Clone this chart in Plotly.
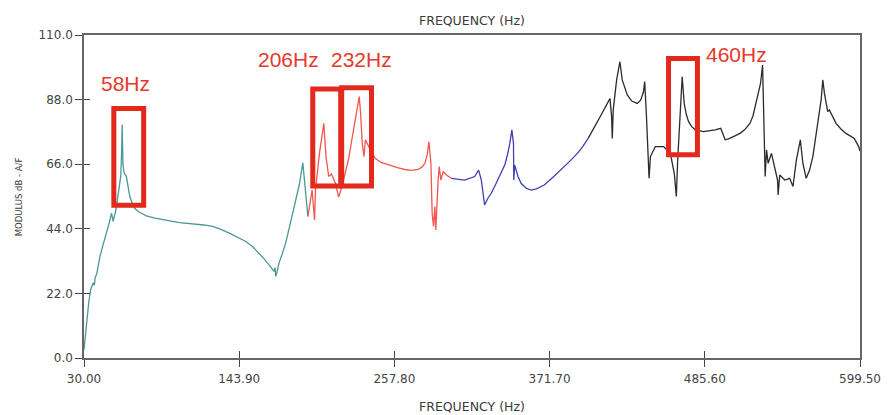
import plotly.graph_objects as go

# Frequency response (modulus, dB) split into the four measured bands
teal_freq = [30.0, 31.0, 32.0, 33.5, 35.0, 36.8, 37.6, 38.2, 39.3, 41.7, 44.0, 46.6, 48.5,
             50.2, 51.4, 53.4, 55.8, 57.0, 57.6, 58.0, 58.6, 59.4, 61.1, 62.4, 63.6, 65.5,
             67.2, 70.0, 75.8, 82.0, 87.9, 94.0, 100.1, 106.0, 112.3, 118.0, 124.4, 130.5,
             136.6, 142.5, 148.8, 154.0, 158.5, 162.5, 165.8, 168.0, 169.5, 170.2, 170.7,
             171.5, 173.1, 175.5, 178.0, 181.5, 185.3, 188.0, 190.6, 192.6, 194.3]
teal_db = [2.8, 8.0, 14.0, 19.0, 23.5, 25.6, 24.8, 27.5, 28.5, 34.6, 38.5, 42.5, 46.0,
           49.3, 46.5, 50.4, 58.4, 62.0, 70.0, 79.4, 66.0, 63.0, 61.8, 58.0, 55.0, 52.5,
           51.0, 49.8, 48.4, 47.6, 47.0, 46.6, 46.1, 45.9, 45.6, 45.3, 44.8, 43.8,
           42.5, 41.2, 39.7, 37.8, 35.7, 33.6, 31.7, 30.5, 29.5, 30.8, 27.8,
           29.0, 32.3, 35.5, 39.1, 46.0, 53.3, 59.0, 66.5, 57.2, 48.2]

red_freq = [194.3, 195.5, 197.4, 199.2, 199.9, 202.8, 204.6, 206.0, 207.6, 209.6, 211.6,
            214.5, 216.9, 219.3, 224.0, 228.6, 232.0, 233.0, 234.2, 235.5, 236.5, 239.6,
            243.7, 248.0, 253.4, 260.0, 265.6, 270.0, 275.3, 278.0, 280.2, 282.0, 283.1,
            284.6, 285.5, 286.5, 287.5, 288.2, 289.9, 290.7, 291.9, 293.6, 296.0, 299.6]
red_db = [48.2, 51.6, 57.2, 47.0, 57.2, 69.7, 75.0, 79.9, 68.6, 61.8, 62.7,
          59.5, 54.8, 58.4, 67.4, 79.9, 89.0, 83.3, 73.1, 68.6, 74.3, 71.4,
          68.0, 66.6, 65.7, 64.8, 64.2, 63.9, 64.2, 65.0, 66.3, 69.5, 73.7,
          66.3, 49.3, 44.8, 51.6, 43.6, 60.6, 65.2, 60.6, 63.5, 62.3, 61.2]

blue_freq = [299.6, 304.5, 309.4, 316.7, 319.6, 321.6, 324.0, 326.5, 328.9, 332.5, 336.2,
             339.0, 341.0, 342.5, 344.0, 345.2, 345.4, 346.1, 348.5, 350.8, 354.5, 358.1,
             362.0, 367.8, 374.0, 380.0, 386.0, 392.1, 396.0, 400.0]
blue_db = [61.2, 60.9, 60.6, 61.8, 64.0, 60.6, 52.1, 54.5, 56.1, 59.5, 62.9,
           66.0, 69.7, 73.0, 77.7, 73.1, 60.6, 65.7, 61.8, 59.5, 57.8, 57.2,
           57.6, 58.9, 61.5, 64.0, 66.8, 69.7, 72.0, 74.8]

black_freq = [400.0, 403.5, 406.8, 410.0, 412.8, 416.0, 417.2, 417.7, 418.4, 420.9, 423.3,
              425.0, 428.7, 432.0, 436.0, 438.5, 440.5, 441.5, 442.8, 443.8, 444.7, 445.7,
              449.3, 455.4, 460.3, 463.2, 464.7, 465.7, 467.2, 469.0, 470.5, 472.0, 473.7,
              476.0, 478.6, 484.7, 493.2, 497.3, 500.5, 503.0, 506.6, 511.4, 515.0, 518.7,
              521.0, 523.6, 525.0, 526.5, 528.0, 528.9, 529.9, 530.9, 532.1, 534.5, 537.0,
              539.0, 539.4, 540.6, 544.3, 547.9, 550.3, 552.8, 555.7, 557.6, 560.0, 562.5,
              564.9, 568.6, 571.0, 572.2, 573.4, 575.8, 577.0, 581.9, 585.5, 589.2, 595.3,
              598.5, 599.5]
black_db = [74.8, 77.6, 80.5, 83.2, 85.6, 88.4, 82.2, 74.8, 84.5, 94.7, 100.9,
            94.7, 89.6, 87.5, 86.7, 87.8, 90.5, 94.1, 82.2, 67.4, 61.2, 68.6,
            72.0, 72.0, 69.7, 62.9, 55.0, 67.4, 82.2, 95.8, 86.7, 83.0, 80.5,
            78.8, 77.7, 77.1, 77.7, 78.2, 74.3, 74.6, 75.4, 76.5, 77.8, 79.9,
            82.5, 87.9, 90.5, 93.5, 99.8, 82.2, 61.8, 70.9, 66.3, 69.7, 64.0,
            60.6, 55.5, 62.3, 60.6, 61.2, 58.4, 67.4, 74.3, 66.3, 61.2, 64.0,
            68.6, 79.9, 88.0, 94.7, 90.1, 83.9, 84.5, 79.9, 78.0, 76.5, 74.8,
            72.0, 70.5]

# Highlighted resonances: label, box (f0, f1, dB0, dB1), label anchor (f, dB)
peak_labels = ["58Hz", "206Hz", "232Hz", "460Hz"]
peak_boxes = [(51.9, 73.8, 52.0, 85.0),
              (197.9, 218.4, 58.6, 91.6),
              (219.1, 241.0, 58.6, 92.0),
              (459.0, 480.2, 69.2, 102.0)]
label_pos = [(60.7, 93.6), (180.2, 101.5), (233.9, 101.5), (509.0, 103.5)]

x_ticks = [30.0, 143.9, 257.8, 371.7, 485.6, 599.5]
y_ticks = [0.0, 22.0, 44.0, 66.0, 88.0, 110.0]

fig = go.Figure()
for fx, fy, col in [(teal_freq, teal_db, "#4b9893"),
                    (red_freq, red_db, "#f2564e"),
                    (blue_freq, blue_db, "#3f3fb2"),
                    (black_freq, black_db, "#2b2b2b")]:
    fig.add_trace(go.Scatter(x=fx, y=fy, mode="lines",
                             line=dict(color=col, width=1.3),
                             showlegend=False, hoverinfo="skip"))

# carrier trace for the inner half of the tick marks
fig.add_trace(go.Scatter(x=[None], y=[None], xaxis="x2", yaxis="y2",
                         showlegend=False, hoverinfo="skip"))

for (x0, x1, y0, y1) in peak_boxes:
    fig.add_shape(type="rect", xref="x", yref="y", x0=x0, x1=x1, y0=y0, y1=y1,
                  line=dict(color="#e2291b", width=5), layer="above")

for txt, (lx, ly) in zip(peak_labels, label_pos):
    fig.add_annotation(x=lx, y=ly, xref="x", yref="y", text=txt, showarrow=False,
                       font=dict(family="Liberation Sans", size=21, color="#e5392b"))

tick_font = dict(family="DejaVu Sans", size=12, color="#444444")
axis_common = dict(showline=True, linecolor="#666666", linewidth=1.5, mirror=True,
                   showgrid=False, zeroline=False, ticks="outside", ticklen=7,
                   tickwidth=1.3, tickcolor="#444444", tickfont=tick_font)

fig.update_layout(
    width=893, height=415,
    margin=dict(l=84, r=29, t=35, b=57),
    paper_bgcolor="white", plot_bgcolor="white",
    xaxis=dict(range=[30, 599.5], tickvals=x_ticks, ticklabelstandoff=2,
               ticktext=[f"{v:.2f}" for v in x_ticks], **axis_common),
    yaxis=dict(range=[0, 110], tickvals=y_ticks,
               ticktext=[f"{v:.1f}" for v in y_ticks], **axis_common),
    xaxis2=dict(range=[30, 599.5], overlaying="x", anchor="y", side="bottom",
                tickvals=x_ticks, ticks="inside", ticklen=7, tickwidth=1.3,
                tickcolor="#444444", showticklabels=False, showline=False,
                showgrid=False, zeroline=False),
    yaxis2=dict(range=[0, 110], overlaying="y", anchor="x", side="left",
                tickvals=y_ticks, ticks="inside", ticklen=6, tickwidth=1.3,
                tickcolor="#444444", showticklabels=False, showline=False,
                showgrid=False, zeroline=False),
)

title_font = dict(family="DejaVu Sans", size=12.5, color="#3a3a3a")
fig.add_annotation(x=0.5, y=1.046, xref="paper", yref="paper", text="FREQUENCY (Hz)",
                   showarrow=False, font=title_font, xanchor="center", yanchor="middle")
fig.add_annotation(x=0.5, y=-0.151, xref="paper", yref="paper", text="FREQUENCY (Hz)",
                   showarrow=False, font=title_font, xanchor="center", yanchor="middle")
fig.add_annotation(x=-0.084, y=0.5, xref="paper", yref="paper", text="MODULUS dB - A/F",
                   textangle=-90, showarrow=False, xanchor="center", yanchor="middle",
                   font=dict(family="DejaVu Sans", size=8.5, color="#3a3a3a"))

fig.write_html("out.html")
